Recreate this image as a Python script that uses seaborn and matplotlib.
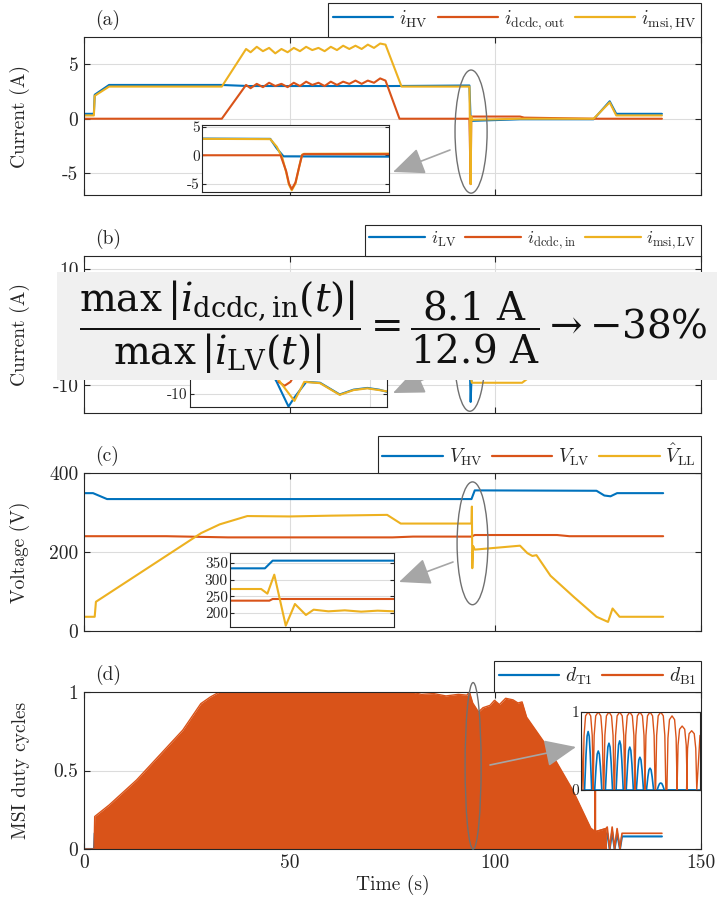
import matplotlib
matplotlib.use("Agg")
import matplotlib.pyplot as plt
import seaborn as sns
from matplotlib.lines import Line2D
from matplotlib.patches import Ellipse, Rectangle

sns.set_theme(style="ticks")
plt.rcParams.update({
    "font.family": ["cmr10", "DejaVu Serif"],
    "mathtext.fontset": "cm",
    "axes.unicode_minus": False,
    "axes.formatter.use_mathtext": False,
})

BLUE, RED, YEL = "#0072BD", "#D95319", "#EDB120"
DARK, GRID, ARROW = "#262626", "#dcdcdc", "#a6a6a6"

# ---------- (a) HV side currents ----------
t_hv = [0, 2.4, 2.6, 6.1, 33.3, 40, 75, 93.7, 94.0, 106, 123.9, 127.8, 129.4, 140.5]
i_hv = [0.45, 0.45, 2.2, 3.1, 3.1, 3.0, 3.0, 3.05, -0.2, -0.05, -0.05, 1.6, 0.45, 0.45]

t_dcdc_out = [0, 33.5, 39.4, 40.5, 42, 43.5, 45, 46.5, 48, 49.5, 51, 52.5, 54, 55.5, 57,
              58.5, 60, 61.5, 63, 64.5, 66, 67.5, 69, 70.5, 72, 73.3,
              76.7, 93.7, 94.0, 94.15, 94.4, 106, 107, 124, 140.5]
i_dcdc_out = [0, 0, 3.1, 2.8, 3.2, 2.9, 3.3, 3.0, 3.2, 2.9, 3.3, 3.0, 3.4, 3.1, 3.3,
              3.0, 3.4, 3.1, 3.4, 3.2, 3.5, 3.2, 3.5, 3.3, 3.7, 3.5,
              0, 0, -6.0, 0.2, 0.2, 0.2, 0.1, 0.0, 0.0]

t_msi_hv = [0, 2.4, 2.6, 6.1, 33.5, 39.4, 40.5, 42, 43.5, 45, 46.5, 48, 49.5, 51, 52.5,
            54, 55.5, 57, 58.5, 60, 61.5, 63, 64.5, 66, 67.5, 69, 70.5, 72, 73.3,
            77.2, 93.7, 94.0, 94.15, 94.4, 106, 123.9, 127.8, 129.4, 140.5]
i_msi_hv = [0.3, 0.3, 2.1, 2.95, 2.95, 6.4, 6.1, 6.6, 6.2, 6.5, 6.0, 6.4, 6.1, 6.5, 6.2,
            6.6, 6.3, 6.5, 6.2, 6.6, 6.3, 6.7, 6.4, 6.7, 6.4, 6.8, 6.5, 6.9, 6.8,
            2.95, 2.95, -6.0, 0.2, -0.1, 0.0, 0.0, 1.5, 0.3, 0.3]

# inset (a), normalised time of the event window
fa_hv = [0, 0.365, 0.40, 0.436, 1.0]
ia_hv = [2.95, 2.9, 1.2, -0.2, -0.25]
fa_dcdc = [0, 0.42, 0.45, 0.465, 0.48, 0.50, 0.52, 0.535, 0.545, 1.0]
ia_dcdc = [0, 0, -2.8, -5.0, -6.0, -4.8, -2.0, 0.0, 0.2, 0.2]
fa_msi = [0, 0.365, 0.40, 0.43, 0.45, 0.465, 0.48, 0.50, 0.52, 0.535, 0.545, 1.0]
ia_msi = [2.9, 2.85, 1.5, -0.5, -3.0, -5.2, -6.2, -5.0, -2.0, 0.1, 0.25, 0.3]

# ---------- (b) LV side currents ----------
t_lv = [0, 2.5, 2.6, 6, 93.7, 94.0, 94.3, 95, 124, 128, 129.5, 140.5]
i_lv = [0, 0, -3.0, -4.2, -4.2, -12.9, -7.0, -0.5, -0.5, -2.0, -0.6, -0.6]
t_dcdc_in = [0, 33.5, 39.4, 73.3, 76.7, 93.7, 94.0, 94.3, 140.5]
i_dcdc_in = [0, 0, -4.5, -4.8, 0, 0, -8.1, 0, 0]
t_msi_lv = [0, 2.5, 2.6, 6, 33.5, 39.4, 73.3, 77.2, 93.7, 94.0, 94.3, 106.5, 108, 125, 140.5]
i_msi_lv = [0, 0, -3.0, -4.2, -4.2, -8.7, -8.8, -4.2, -4.2, -8.5, -9.6, -9.6, -8.8, -1.0, -0.5]

fb_lv = [0, 0.40, 0.44, 0.50, 0.53, 0.59, 0.66, 0.76, 0.83, 0.90, 0.96, 1.0]
ib_lv = [-4.0, -4.0, -7.2, -12.9, -10.8, -7.2, -7.4, -10.1, -9.0, -8.6, -9.0, -9.5]
fb_dcdc = [0, 0.43, 0.45, 0.48, 0.51, 0.60, 1.0]
ib_dcdc = [0, 0, -7.2, -8.1, -7.2, 0, 0]
fb_msi = [0, 0.41, 0.457, 0.53, 0.58, 0.66, 0.76, 0.83, 0.90, 0.96, 1.0]
ib_msi = [-4.0, -4.0, -7.2, -11.6, -7.2, -7.5, -10.2, -9.1, -8.7, -9.1, -9.4]

# ---------- (c) voltages ----------
t_vhv = [0, 2.2, 5.6, 94.2, 95.0, 124.6, 126.5, 128, 129.6, 140.8]
v_hv = [349, 349, 334, 334, 356, 355, 343, 341, 349, 349]
t_vlv = [0, 20, 35, 75, 80, 94.2, 95, 115, 118, 140.8]
v_lv = [240, 240, 237, 237, 239, 239, 243, 243, 240, 240]
t_vll = [0.3, 2.6, 2.9, 28.5, 33, 39.7, 50, 60, 73.7, 77, 94.2, 94.3, 94.4, 94.6, 95,
         106, 107.8, 109, 110, 113.4, 119, 124.6, 127.4, 128.5, 130.2, 140.8]
v_ll = [36, 36, 74, 248, 270, 291, 290, 292, 294, 272, 272, 315, 159, 215, 206,
        216, 197, 190, 192, 140, 87, 36, 23, 57, 36, 36]

fc_hv = [0, 0.213, 0.26, 1.0]
vc_hv = [334, 334, 357, 357]
fc_lv = [0, 0.24, 0.26, 1.0]
vc_lv = [237, 237, 242, 242]
fc_ll = [0, 0.19, 0.228, 0.27, 0.34, 0.396, 0.463, 0.51, 0.6, 0.7, 0.8, 0.9, 1.0]
vc_ll = [272, 272, 258, 315, 162, 227, 194, 210, 205, 208, 204, 207, 205]

# ---------- (d) duty cycles ----------
t_env = [0, 2.45, 2.6, 6.1, 12.8, 24.0, 28.4, 30.7, 32.9, 79.7, 82, 85, 88, 91, 93.1,
         93.7, 94.5, 95.9, 97, 98.7, 99.8, 101, 102.5, 104.3, 105.5, 106.5, 107.6,
         113.2, 118.8, 123.2, 124.3, 126.9, 127.0]
d_env = [0, 0, 0.207, 0.28, 0.44, 0.757, 0.926, 0.968, 1.0, 1.0, 0.985, 0.99, 0.975,
         0.985, 0.98, 1.0, 0.93, 0.873, 0.9, 0.915, 0.947, 0.92, 0.96, 0.95, 0.93, 0.937,
         0.84, 0.63, 0.376, 0.133, 0.11, 0.13, 0.0]
t_b1_tail = [124.3, 124.3, 124.3, 126.9, 127.2, 127.8, 128.4, 129.0, 129.6, 130.3, 130.8, 140.5]
d_b1_tail = [0.11, 0.38, 0.11, 0.13, 0.14, 0.0, 0.14, 0.0, 0.13, 0.0, 0.1, 0.1]
t_t1 = [0, 2.45, 2.6, 33, 94, 107, 124, 127.2, 127.8, 128.4, 129.0, 129.6, 130.3, 130.8, 140.5]
d_t1 = [0, 0, 0.1, 0.5, 0.5, 0.4, 0.05, 0.1, 0.0, 0.11, 0.0, 0.1, 0.0, 0.08, 0.08]

# inset (d): switching arches, centre and peak of each
arch_centres = [0.06, 0.145, 0.235, 0.325, 0.41, 0.495, 0.58, 0.67, 0.765, 0.85, 0.93]
b1_peaks = [1.0, 1.0, 1.0, 1.0, 1.0, 1.0, 1.0, 1.0, 0.95, 0.82, 0.76]
t1_peaks = [0.75, 0.5, 0.6, 0.63, 0.55, 0.42, 0.28, 0.09, 0.0, 0.0, 0.0]
red_shape = ([-1, -0.8, -0.5, 0, 0.5, 0.8, 1], [0, 0.7, 0.95, 1, 0.95, 0.7, 0])
blue_shape = ([-1, -0.6, -0.3, 0, 0.3, 0.6, 1], [0, 0.6, 0.92, 1, 0.92, 0.6, 0])


def arches(centres, peaks, half, shape, start=None, end=None):
    xs, ys = [], []
    if start is not None:
        xs += [0, centres[0] - half]
        ys += [start, 0]
    for c, p in zip(centres, peaks):
        xs += [c + o * half for o in shape[0]]
        ys += [p * s for s in shape[1]]
    if end is not None:
        xs += [1.0]
        ys += [end]
    return xs, ys


W, H = 717, 905
fig = plt.figure(figsize=(W / 100, H / 100), dpi=100)


def rect(x0, y0, x1, y1):
    return [x0 / W, 1 - y1 / H, (x1 - x0) / W, (y1 - y0) / H]


def line(ax, x, y, c, lw=1.5, z=2):
    sns.lineplot(x=x, y=y, ax=ax, color=c, lw=lw, estimator=None, sort=False, zorder=z)


def style_main(ax, ylim, yticks, ylabel, tag, yticklabels=None):
    ax.set_xlim(0, 150)
    ax.set_ylim(*ylim)
    ax.set_xticks([0, 50, 100, 150])
    ax.set_yticks(yticks)
    if yticklabels:
        ax.set_yticklabels(yticklabels)
    ax.grid(True, color=GRID, lw=0.8)
    ax.set_axisbelow(True)
    ax.tick_params(direction="in", top=True, right=True, length=4, width=0.8,
                   labelsize=14, color=DARK, labelcolor=DARK, pad=4)
    ax.set_xticklabels([])
    ax.set_xlabel("")
    ax.set_ylabel(ylabel, fontsize=14, color=DARK)
    ax.yaxis.set_label_coords(-0.088, 0.5)
    ax.annotate(tag, xy=(0.018, 1), xycoords="axes fraction", xytext=(0, 12),
                textcoords="offset points", va="center", ha="left", fontsize=14, color=DARK)
    for s in ax.spines.values():
        s.set_color(DARK)
        s.set_linewidth(0.8)


def style_inset(ax, ylim, yticks):
    ax.set_xlim(0, 1)
    ax.set_ylim(*ylim)
    ax.set_yticks(yticks)
    ax.set_xticks([])
    ax.set_xlabel("")
    ax.set_ylabel("")
    ax.grid(True, axis="y", color=GRID, lw=0.8)
    ax.set_axisbelow(True)
    ax.tick_params(direction="in", right=True, length=3, width=0.8, labelsize=11,
                   color=DARK, labelcolor=DARK, pad=1.5)
    for s in ax.spines.values():
        s.set_color(DARK)
        s.set_linewidth(0.8)


def legend(ax, labels, colors, size=14):
    hs = [Line2D([], [], color=c, lw=1.6) for c in colors]
    leg = ax.legend(hs, labels, ncol=len(labels), loc="lower right", bbox_to_anchor=(1, 1),
                    borderaxespad=0, frameon=True, fancybox=False, framealpha=1,
                    edgecolor=DARK, fontsize=size, handlelength=3.1, handletextpad=0.3,
                    columnspacing=0.5, borderpad=0.25)
    leg.get_frame().set_linewidth(0.8)


def ellipse(ax, cx, cy, w, h):
    ax.add_patch(Ellipse((cx, cy), w, h, fill=False, ec="#707070", lw=1,
                         clip_on=False, zorder=6))


# ---- panel (a)
ax_a = fig.add_axes(rect(84, 37, 701, 195), zorder=1)
line(ax_a, t_hv, i_hv, BLUE)
line(ax_a, t_dcdc_out, i_dcdc_out, RED)
line(ax_a, t_msi_hv, i_msi_hv, YEL)
style_main(ax_a, (-7, 7.5), [-5, 0, 5], "Current (A)", "(a)")
legend(ax_a, [r"$i_{\mathrm{HV}}$", r"$i_{\mathrm{dcdc,out}}$", r"$i_{\mathrm{msi,HV}}$"],
       [BLUE, RED, YEL])
ellipse(ax_a, 94.1, -1.18, 7.8, 11.3)

in_a = fig.add_axes(rect(202, 125, 389, 192), zorder=3)
line(in_a, fa_hv, ia_hv, BLUE)
line(in_a, fa_msi, ia_msi, YEL)
line(in_a, fa_dcdc, ia_dcdc, RED)
style_inset(in_a, (-6.5, 5.35), [-5, 0, 5])

# ---- panel (b)
ax_b = fig.add_axes(rect(84, 256, 701, 413), zorder=1)
line(ax_b, t_lv, i_lv, BLUE)
line(ax_b, t_dcdc_in, i_dcdc_in, RED)
line(ax_b, t_msi_lv, i_msi_lv, YEL)
style_main(ax_b, (-14.8, 12.2), [-10, 0, 10], "Current (A)", "(b)")
legend(ax_b, [r"$i_{\mathrm{LV}}$", r"$i_{\mathrm{dcdc,in}}$", r"$i_{\mathrm{msi,LV}}$"],
       [BLUE, RED, YEL], size=13)
ellipse(ax_b, 93.8, -4.2, 7.5, 20.6)

in_b = fig.add_axes(rect(190, 342, 387, 407), zorder=3)
line(in_b, fb_lv, ib_lv, BLUE)
line(in_b, fb_dcdc, ib_dcdc, RED)
line(in_b, fb_msi, ib_msi, YEL)
style_inset(in_b, (-13, 2), [-10])
in_b.set_xticks([0.915])
in_b.tick_params(axis="x", length=0, labelbottom=False)
in_b.grid(True, axis="x", color=GRID, lw=0.8)

# ---- panel (c)
ax_c = fig.add_axes(rect(84, 473, 701, 631), zorder=1)
line(ax_c, t_vhv, v_hv, BLUE)
line(ax_c, t_vlv, v_lv, RED)
line(ax_c, t_vll, v_ll, YEL)
style_main(ax_c, (0, 400), [0, 200, 400], "Voltage (V)", "(c)")
legend(ax_c, [r"$V_{\mathrm{HV}}$", r"$V_{\mathrm{LV}}$", r"$\hat{V}_{\mathrm{LL}}$"],
       [BLUE, RED, YEL])
ellipse(ax_c, 94.45, 222, 7.5, 311)

in_c = fig.add_axes(rect(230, 553, 394, 627), zorder=3)
line(in_c, fc_hv, vc_hv, BLUE)
line(in_c, fc_lv, vc_lv, RED)
line(in_c, fc_ll, vc_ll, YEL)
style_inset(in_c, (158, 380), [200, 250, 300, 350])

# ---- panel (d)
ax_d = fig.add_axes(rect(84, 692, 701, 849), zorder=1)
line(ax_d, t_t1, d_t1, BLUE, z=1.5)
ax_d.fill_between(t_env, 0, d_env, color=RED, lw=0, zorder=2)
line(ax_d, t_env, d_env, RED, lw=1, z=2.1)
line(ax_d, t_b1_tail, d_b1_tail, RED, lw=1.2, z=2.2)
style_main(ax_d, (0, 1), [0, 0.5, 1], "MSI duty cycles", "(d)", ["0", "0.5", "1"])
ax_d.set_xticklabels(["0", "50", "100", "150"])
ax_d.set_xlabel("Time (s)", fontsize=14, color=DARK, labelpad=2)
legend(ax_d, [r"$d_{\mathrm{T1}}$", r"$d_{\mathrm{B1}}$"], [BLUE, RED])
ellipse(ax_d, 94.6, 0.53, 3.9, 1.06)

in_d = fig.add_axes(rect(581, 712, 700, 790), zorder=3)
xb, yb = arches(arch_centres, t1_peaks, 0.03, blue_shape)
xr, yr = arches(arch_centres, b1_peaks, 0.043, red_shape, start=0.85, end=0.7)
line(in_d, [0, 1], [0, 0], BLUE, lw=1.2)
line(in_d, xb, yb, BLUE, lw=1.2)
line(in_d, xr, yr, RED, lw=1.0)
style_inset(in_d, (0, 1), [0, 1])
in_d.grid(False)

# ---- overlay: arrows, ratio box
ov = fig.add_axes([0, 0, 1, 1], zorder=10)
ov.set_xlim(0, W)
ov.set_ylim(H, 0)
ov.set_axis_off()
for tail, tip in [((450, 150), (393, 172)), ((440, 372), (393, 393)),
                  ((453, 562), (399, 582)), ((490, 765), (576, 747))]:
    ov.annotate("", xy=tip, xytext=tail,
                arrowprops=dict(arrowstyle="-|>,head_length=1.4,head_width=0.6",
                                color=ARROW, lw=1.2, mutation_scale=14, shrinkA=0, shrinkB=0),
                zorder=1)
ov.add_patch(Rectangle((57, 272), 660, 108, facecolor="#f0f0f0", edgecolor="none", zorder=2))
ov.text(393, 327,
        r"$\dfrac{\max\,|i_{\mathrm{dcdc,in}}(t)|}{\max\,|i_{\mathrm{LV}}(t)|}"
        r"=\dfrac{8.1\ \mathrm{A}}{12.9\ \mathrm{A}}\rightarrow{-}38\%$",
        ha="center", va="center", fontsize=28, math_fontfamily="dejavuserif",
        color="#111111", zorder=3)

fig.savefig("out.png", dpi=100)
